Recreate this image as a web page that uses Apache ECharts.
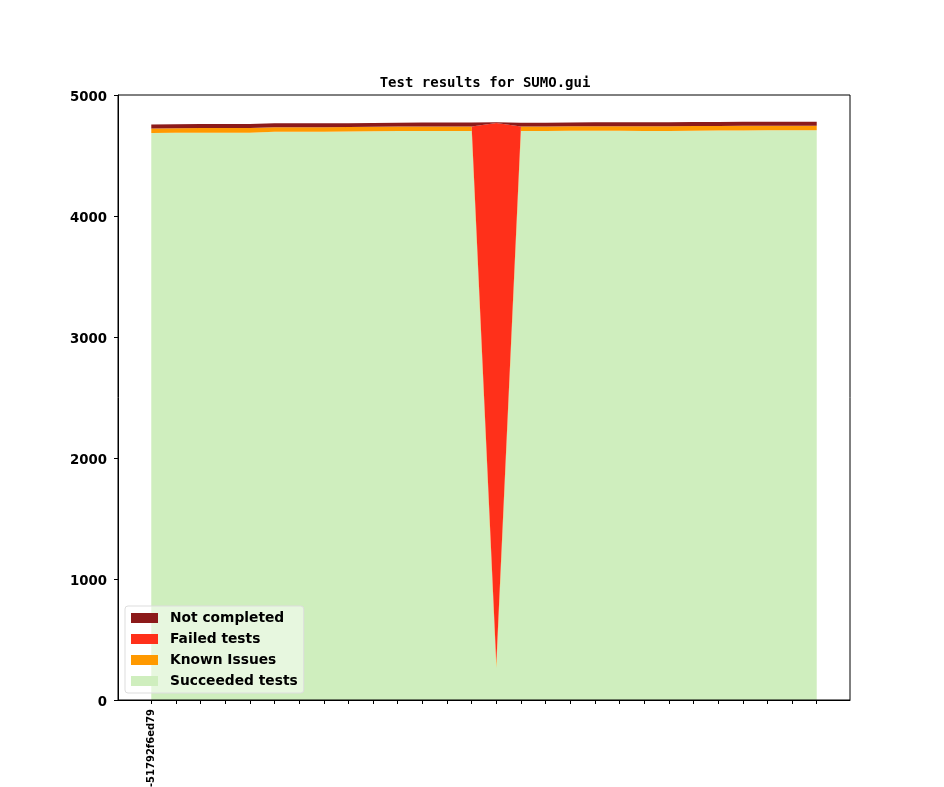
<!DOCTYPE html>
<html>
<head>
<meta charset="utf-8">
<script src="https://cdn.jsdelivr.net/npm/echarts@6/dist/echarts.min.js"></script>
<style>html,body{margin:0;padding:0;background:#fff}#c{width:944px;height:787px}</style>
</head>
<body>
<div id="c"></div>
<script>
const categories = ['-51792f6ed79','','','','','','','','','','','','','','','','','','','','','','','','','','',''];
const succeeded = [4685,4687,4689,4689,4689,4697,4697,4697,4698,4700,4702,4703,4703,4703,265,4702,4702,4704,4705,4705,4703,4703,4705,4706,4707,4708,4708,4708];
const knownIssues = [39,38,38,38,38,37,37,37,37,37,37,37,37,37,38,37,37,37,37,37,38,38,38,38,38,38,38,38];
const failed = [0,0,0,0,0,0,0,0,0,0,0,0,0,0,4466,0,0,0,0,0,0,0,0,0,0,0,0,0];
const notCompleted = [33,33,33,33,33,32,32,32,32,32,32,32,32,32,5,32,32,32,32,32,33,33,33,33,33,33,33,33];
const yTicks = [0,1000,2000,3000,4000,5000];

// value first, position second, so the value dimension is the stacked one
const toPairs = arr => arr.map((v,i)=>[v,i]);
const idx = categories.map((_,i)=>i);
const bold = {fontFamily:'DejaVu Sans',fontWeight:'bold',color:'#000'};

function mk(name, data, color){
  return {name, type:'line', stack:'total', data:toPairs(data), encode:{x:1,y:0}, symbol:'none', z:1,
    lineStyle:{width:0}, areaStyle:{color, opacity:1}, itemStyle:{color}, silent:true};
}

const chart = echarts.init(document.getElementById('c'), null, {renderer:'canvas'});
chart.setOption({
  animation:false,
  backgroundColor:'#fff',
  title:{text:'Test results for SUMO.gui', left:480, top:71, textAlign:'center',
    textStyle:{fontFamily:'DejaVu Sans Mono',fontWeight:'bold',fontSize:14,color:'#000'}},
  grid:{left:118,right:94,top:95,bottom:87,show:true,borderColor:'#000',borderWidth:1,backgroundColor:'transparent',
    outerBoundsMode:'none',containLabel:false,z:4},
  legend:{orient:'vertical',left:125,top:606,z:6,
    data:['Not completed','Failed tests','Known Issues','Succeeded tests'],
    itemWidth:27,itemHeight:10,itemGap:7,icon:'rect',
    padding:[5,6,5,6],
    backgroundColor:'rgba(255,255,255,0.5)',borderColor:'#ddd',borderWidth:1,borderRadius:3,
    textStyle:Object.assign({fontSize:13.8,lineHeight:13,padding:[0,0,0,7]},bold)},
  xAxis:{type:'value',min:-1.35,max:28.35,z:5,
    axisLine:{show:true,onZero:false,lineStyle:{color:'#000'}},
    splitLine:{show:false},
    axisTick:{show:true,inside:false,length:4,lineStyle:{color:'#000'},customValues:idx},
    axisLabel:{show:true,rotate:90,fontSize:10,fontWeight:'bold',fontFamily:'DejaVu Sans',color:'#000',margin:9,
      customValues:[0],formatter:v=>categories[Math.round(v)]||''}},
  yAxis:{type:'value',min:0,max:5000,interval:1000,z:5,
    axisLine:{show:true,onZero:false,lineStyle:{color:'#000'}},
    splitLine:{show:false},
    axisTick:{show:true,length:4,lineStyle:{color:'#000'}},
    axisLabel:Object.assign({fontSize:13.3,margin:11,
      formatter:v=>yTicks.includes(v)?'{a|'+v+'}':'',
      rich:{a:Object.assign({fontSize:13.3,padding:[5,0,0,0]},bold)}},bold)},
  series:[
    mk('Succeeded tests', succeeded, '#cfeebe'),
    mk('Known Issues', knownIssues, '#ff9900'),
    mk('Failed tests', failed, '#ff301a'),
    mk('Not completed', notCompleted, '#8c1a1a')
  ]
});
</script>
</body>
</html>
